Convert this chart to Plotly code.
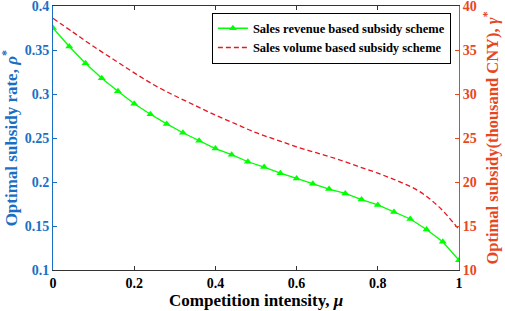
import plotly.graph_objects as go

mu_rev = [round(i * 0.04, 2) for i in range(26)]
rho = [0.375, 0.354, 0.335, 0.318, 0.303, 0.289, 0.277, 0.266, 0.256, 0.247,
       0.238, 0.231, 0.223, 0.217, 0.210, 0.204, 0.198, 0.192, 0.187, 0.180,
       0.174, 0.166, 0.158, 0.146, 0.132, 0.111]

mu_vol = [round(i * 0.05, 2) for i in range(21)]
gamma = [38.6, 37.0, 35.4, 33.9, 32.4, 31.0, 29.8, 28.7, 27.6, 26.6, 25.6,
         24.8, 24.0, 23.3, 22.6, 21.8, 21.0, 20.1, 19.0, 17.2, 14.6]

x_ticks = [0, 0.2, 0.4, 0.6, 0.8, 1]
left_ticks = [0.1, 0.15, 0.2, 0.25, 0.3, 0.35, 0.4]
right_ticks = [10, 15, 20, 25, 30, 35, 40]

BLUE = "#1A6FC4"
ORANGE = "#E8461E"
FONT = "Times New Roman, Liberation Serif, DejaVu Serif, serif"

fig = go.Figure()
fig.add_trace(go.Scatter(
    x=mu_rev, y=rho, mode="lines+markers", name="<b>Sales revenue based subsidy scheme</b>",
    line=dict(color="#00FF00", width=1.3),
    marker=dict(symbol="triangle-up", size=7, color="#00FF00"),
    yaxis="y"))
fig.add_trace(go.Scatter(
    x=mu_vol, y=gamma, mode="lines", name="<b>Sales volume based subsidy scheme</b>",
    line=dict(color="#E8141E", width=1.3, dash="5px,3px", shape="spline"),
    yaxis="y2"))

fig.update_layout(
    width=505, height=311,
    margin=dict(l=53, r=46, t=6, b=41, autoexpand=False),
    paper_bgcolor="white", plot_bgcolor="white",
    font=dict(family=FONT, size=13, color="black"),
    showlegend=True,
    legend=dict(x=0.98, y=0.975, xanchor="right", yanchor="top",
                bgcolor="white", bordercolor="black", borderwidth=1,
                font=dict(family=FONT, size=12.5, color="black"),
                tracegroupgap=0, itemwidth=30),
    xaxis=dict(range=[0, 1], tickvals=x_ticks, ticktext=[f"<b>{v:g}</b>" for v in x_ticks],
               ticks="inside", ticklen=4, tickcolor="#333", automargin=False,
               showline=True, linecolor="#333", linewidth=1, mirror="ticks",
               showgrid=False, zeroline=False, ticklabeloverflow="allow",
               tickfont=dict(family=FONT, size=14, color="black")),
    yaxis=dict(range=[0.1, 0.4], tickvals=left_ticks, ticktext=[f"<b>{v:g}</b>" for v in left_ticks],
               ticks="inside", ticklen=4, tickcolor=BLUE, automargin=False,
               showline=True, linecolor=BLUE, linewidth=1, ticklabeloverflow="allow",
               showgrid=False, zeroline=False,
               tickfont=dict(family=FONT, size=14, color=BLUE)),
    yaxis2=dict(range=[10, 40], tickvals=right_ticks, ticktext=[f"<b>{v}</b>" for v in right_ticks],
                overlaying="y", side="right", anchor="x", automargin=False,
                ticks="inside", ticklen=4, tickcolor=ORANGE, ticklabeloverflow="allow",
                showline=True, linecolor=ORANGE, linewidth=1,
                showgrid=False, zeroline=False,
                tickfont=dict(family=FONT, size=14, color=ORANGE)),
    annotations=[
        dict(text="<b>Competition intensity, <i>μ</i></b>", xref="paper", yref="paper",
             x=0.5, y=-0.158, xanchor="center", yanchor="bottom", showarrow=False,
             font=dict(family=FONT, size=17, color="black")),
        dict(text="<b>Optimal subsidy rate, <i>ρ</i><sup>*</sup></b>", xref="paper", yref="paper",
             x=-0.105, y=0.5, xanchor="center", yanchor="middle", showarrow=False, textangle=-90,
             font=dict(family=FONT, size=17, color=BLUE)),
        dict(text="<b>Optimal subsidy(thousand CNY), <i>γ</i><sup>*</sup></b>", xref="paper", yref="paper",
             x=1.08, y=0.5, xanchor="center", yanchor="middle", showarrow=False, textangle=-90,
             font=dict(family=FONT, size=16.5, color=ORANGE)),
    ],
)

fig.write_html("out.html", config={"displayModeBar": False},
               post_script="document.body.style.margin='0';document.body.style.overflow='hidden';")
